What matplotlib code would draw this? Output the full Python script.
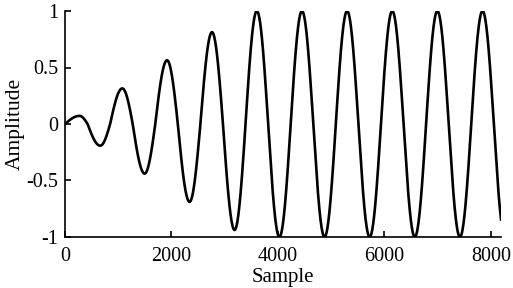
import numpy as np
import matplotlib
matplotlib.use("Agg")
import matplotlib.pyplot as plt
from matplotlib.ticker import FuncFormatter

# Knots: zero crossings (value 0) and extrema of the signal
knot_x = [0, 274, 424, 663, 848, 1077, 1272, 1496, 1696, 1917, 2120, 2340, 2544,
          2762, 2968, 3186, 3392, 3604, 3816, 4028, 4240, 4452, 4664, 4876, 5088,
          5300, 5512, 5724, 5936, 6148, 6360, 6572, 6784, 6996, 7208, 7420, 7632,
          7844, 8056, 8268]
knot_y = [0, 0.072, 0, -0.192, 0, 0.315, 0, -0.439, 0, 0.564, 0, -0.689, 0,
          0.813, 0, -0.938, 0, 1.0, 0, -1.0, 0, 1.0, 0, -1.0, 0,
          1.0, 0, -1.0, 0, 1.0, 0, -1.0, 0, 1.0, 0, -1.0, 0,
          1.0, 0, -1.0]
n_samples = 8192
x_ticks = [0, 2000, 4000, 6000, 8000]
y_ticks = [-1, -0.5, 0, 0.5, 1]

# Build smooth curve: quarter-sine segments between zero crossings and extrema
n = np.arange(0, n_samples + 1)
y = np.zeros_like(n, dtype=float)
for i in range(len(knot_x) - 1):
    x0, x1 = knot_x[i], knot_x[i + 1]
    y0, y1 = knot_y[i], knot_y[i + 1]
    m = (n >= x0) & (n <= x1)
    t = (n[m] - x0) / (x1 - x0)
    if y0 == 0:
        y[m] = y1 * np.sin(np.pi / 2 * t)
    else:
        y[m] = y0 * np.cos(np.pi / 2 * t)

plt.rcParams['font.family'] = ['Liberation Serif', 'DejaVu Serif']
fig = plt.figure(figsize=(5.13, 2.88), dpi=100)
ax = fig.add_axes([0.1267, 0.1771, 0.850, 0.7847])
ax.plot(n, y, color='black', linewidth=1.9)
ax.set_xlim(0, n_samples)
ax.set_ylim(-1, 1)
ax.set_xticks(x_ticks)
ax.set_yticks(y_ticks)
ax.yaxis.set_major_formatter(FuncFormatter(lambda v, p: ('%g' % v)))
for s in ['top', 'right']:
    ax.spines[s].set_visible(False)
for s in ['left', 'bottom']:
    ax.spines[s].set_linewidth(1.2)
ax.tick_params(direction='in', length=4, width=1.2, labelsize=14.5)
ax.tick_params(axis='x', pad=7)
ax.tick_params(axis='y', pad=5)
ax.set_xlabel('Sample', fontsize=15, labelpad=2)
ax.set_ylabel('Amplitude', fontsize=15.5, labelpad=1)
fig.savefig('out.png', dpi=100)
